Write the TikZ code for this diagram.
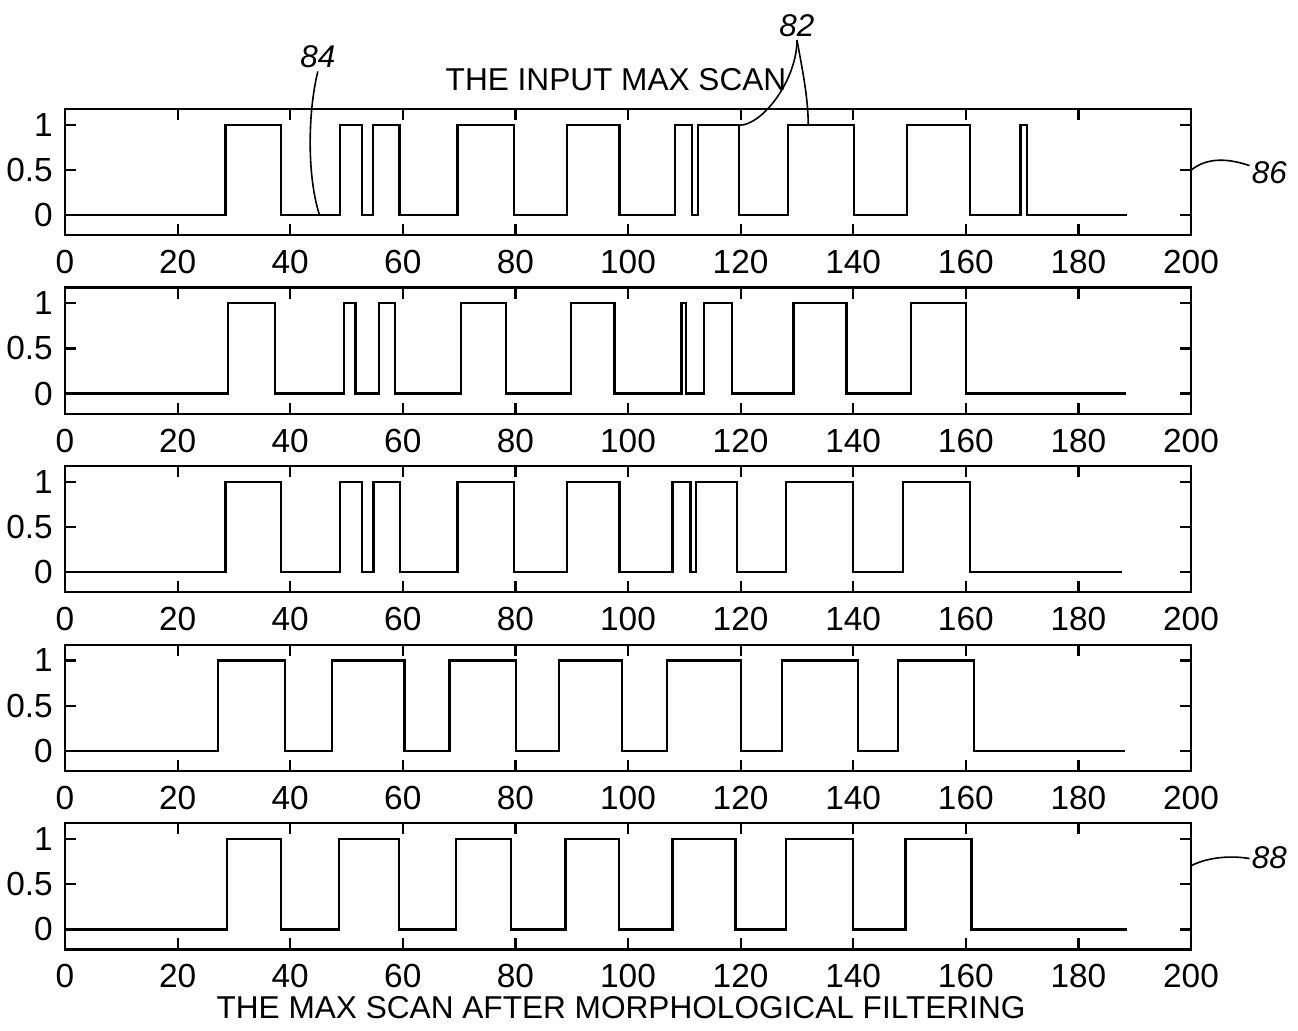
\documentclass[tikz,border=0pt]{standalone}
\usepackage{fontspec}
\setmainfont{Liberation Sans}

% one panel: #1 panel number (0 = top), #2 pulses start/end, #3 end of trace
\newcommand{\scanplot}[3]{%
  \begin{scope}[inplot=#1]
    \draw[axisbox] (0,-0.222) rectangle (200,1.175);
    \foreach \u in {0,20,...,200}{
      \draw[axisbox] (\u,-0.222) -- ++(0,0.122) (\u,1.175) -- ++(0,-0.122);
      \node[ticklbl] (xl#1-\u) at (\u,-0.52) {\u};
    }
    \foreach \v [count=\i] in {0,0.5,1}{
      \draw[axisbox] (0,\v) -- ++(1.95,0) (200,\v) -- ++(-1.95,0);
      \node[ticklbl,anchor=east] (yl#1-\i) at (-2.1,\v) {\v};
    }
    \draw[scanline] (0,0) \foreach \a/\b in {#2}{ -- (\a,0) -- (\a,1) -- (\b,1) -- (\b,0)} -- (#3,0);
  \end{scope}}

\begin{document}
\begin{tikzpicture}[x=0.5pt,y=0.5pt,line join=miter,
    inplot/.style={shift={(65,{815-178.6*#1})},xscale=5.63,yscale=90.3},
    axisbox/.style={line width=1.1pt},
    scanline/.style={line width=1.1pt},
    ticklbl/.style={inner sep=0pt,font=\fontsize{16.7}{20}\selectfont},
    titlelbl/.style={inner sep=0pt,font=\fontsize{15.8}{19}\selectfont},
    refnum/.style={inner sep=1pt,font=\fontsize{15.7}{19}\selectfont\itshape},
    leader/.style={line width=0.8pt}]
  \useasboundingbox (0,0) rectangle (1298,1030);

  \scanplot{0}{28.5/38.4, 48.8/52.7, 54.7/59.4, 69.7/79.7, 89.1/98.5, 108.3/111.3, 112.5/119.7, 128.4/140.1, 149.5/160.7, 169.7/170.9}{188.7}
  \scanplot{1}{29.0/37.3, 49.6/51.6, 55.8/58.6, 70.3/78.3, 89.9/97.6, 109.5/110.3, 113.5/118.5, 129.4/138.8, 150.3/160.0}{188.5}
  \scanplot{2}{28.5/38.4, 48.9/52.7, 54.8/59.5, 69.7/79.7, 89.1/98.5, 107.9/111.1, 112.1/119.3, 128.0/139.9, 148.9/160.8}{187.8}
  \scanplot{3}{27.2/39.1, 47.4/60.3, 68.3/80.1, 87.7/98.9, 106.9/120.0, 127.4/140.8, 148.0/161.4}{188.3}
  \scanplot{4}{28.8/38.4, 48.6/59.3, 69.5/79.2, 88.9/98.4, 107.9/119.1, 128.0/139.9, 149.3/161.0}{188.6}

  \node[titlelbl] (toptitle) at (616,950) {THE INPUT MAX SCAN};
  \node[titlelbl] (bottitle) at (621,22) {THE MAX SCAN AFTER MORPHOLOGICAL FILTERING};

  % reference numbers, top panel
  \begin{scope}[inplot=0]
    \node[refnum] (n84) at (44.9,1.75) {84};
    \node[refnum] (n82) at (130.0,2.1) {82};
    \node[refnum] (n86) at (213.9,0.47) {86};
    \coordinate (c84) at (45.2,0);
    \coordinate (c82a) at (119.8,1);
    \coordinate (c82b) at (132.0,1);
    \coordinate (c86) at (200,0.5);
    \draw[leader] (n84.south) .. controls (43.0,1.1) and (43.1,0.4) .. (c84);
    \draw[leader] (n82.south) .. controls (130.0,1.5) and (124.0,1.0) .. (c82a);
    \draw[leader] (n82.south) .. controls (131.0,1.6) and (132.0,1.3) .. (c82b);
    \draw[leader] (c86) .. controls (203.0,0.65) and (207.0,0.62) .. (n86.160);
  \end{scope}

  % reference number, bottom panel
  \begin{scope}[inplot=4]
    \node[refnum] (n88) at (213.9,0.79) {88};
    \coordinate (c88) at (200,0.71);
    \draw[leader] (c88) .. controls (203.0,0.8) and (207.0,0.82) .. (n88.west);
  \end{scope}
\end{tikzpicture}
\end{document}
